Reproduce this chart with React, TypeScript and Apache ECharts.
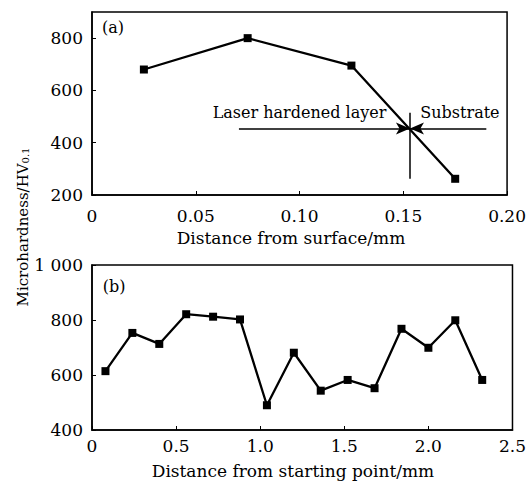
import React, { useEffect, useRef } from "react";
import * as echarts from "echarts";

// Panel (a): hardness vs distance from surface
const aDist = [0.025, 0.075, 0.125, 0.175];
const aHard = [680, 800, 695, 262];
// Panel (b): hardness vs distance from starting point
const bDist = [0.08, 0.24, 0.4, 0.56, 0.72, 0.88, 1.04, 1.2, 1.36, 1.52, 1.68, 1.84, 2.0, 2.16, 2.32];
const bHard = [614, 753, 713, 821, 812, 802, 490, 681, 543, 582, 552, 768, 699, 799, 582];

// Annotation geometry in panel (a) data units
const boundaryX = 0.1532;
const arrowY = 454;
const arrowLeftStart = 0.0708;
const arrowRightStart = 0.19;
const boundaryTop = 515;
const boundaryBottom = 262;
const labelY = 515;
const laserLabelX = 0.1;
const substrateLabelX = 0.1773;

const FONT = "DejaVu Serif";

export default function App() {
  const ref = useRef<HTMLDivElement>(null);
  useEffect(() => {
    document.body.style.margin = "0";
    const chart = echarts.init(ref.current!, null, { renderer: "svg" });
    const axisLineStyle = { color: "#000", width: 1.5 };
    const tickLabel = { color: "#000", fontFamily: FONT, fontSize: 17 };
    const option: any = {
      animation: false,
      backgroundColor: "#fff",
      grid: [
        { left: 92, top: 12, width: 432, height: 183, show: true, borderColor: "#000", borderWidth: 1.5, backgroundColor: "transparent" },
        { left: 92, top: 265, width: 432, height: 165, show: true, borderColor: "#000", borderWidth: 1.5, backgroundColor: "transparent" },
      ],
      xAxis: [
        {
          type: "value", gridIndex: 0, min: 0, max: 0.2, interval: 0.05,
          axisLine: { show: true, lineStyle: axisLineStyle },
          axisTick: { show: true, inside: true, length: 4, lineStyle: { color: "#000" } },
          splitLine: { show: false },
          axisLabel: { ...tickLabel, margin: 12, formatter: (v: number) => (v === 0 ? "0" : v.toFixed(2)) },
        },
        {
          type: "value", gridIndex: 1, min: 0, max: 2.5, interval: 0.5,
          axisLine: { show: true, lineStyle: axisLineStyle },
          axisTick: { show: true, inside: true, length: 4, lineStyle: { color: "#000" } },
          splitLine: { show: false },
          axisLabel: { ...tickLabel, margin: 7, formatter: (v: number) => (v === 0 ? "0" : v.toFixed(1)) },
        },
      ],
      yAxis: [
        {
          type: "value", gridIndex: 0, min: 200, max: 900, interval: 200,
          axisLine: { show: true, lineStyle: axisLineStyle },
          axisTick: { show: true, inside: true, length: 4, lineStyle: { color: "#000" } },
          splitLine: { show: false },
          axisLabel: { ...tickLabel, margin: 9, showMaxLabel: false },
        },
        {
          type: "value", gridIndex: 1, min: 400, max: 1000, interval: 200,
          axisLine: { show: true, lineStyle: axisLineStyle },
          axisTick: { show: true, inside: true, length: 4, lineStyle: { color: "#000" } },
          splitLine: { show: false },
          axisLabel: { ...tickLabel, margin: 9, formatter: (v: number) => (v === 1000 ? "1 000" : String(v)) },
        },
      ],
      series: [
        {
          type: "line", xAxisIndex: 0, yAxisIndex: 0,
          data: aDist.map((x, i) => [x, aHard[i]]),
          symbol: "rect", symbolSize: 8, showAllSymbol: true,
          lineStyle: { color: "#000", width: 2.3 },
          itemStyle: { color: "#000" },
          markLine: {
            silent: true, animation: false,
            symbol: ["none", "arrow"], symbolSize: [9, 14],
            label: { show: false },
            lineStyle: { color: "#000", width: 1.5, type: "solid" },
            data: [
              [{ coord: [arrowLeftStart, arrowY] }, { coord: [boundaryX, arrowY] }],
              [{ coord: [arrowRightStart, arrowY] }, { coord: [boundaryX, arrowY] }],
              [{ coord: [boundaryX, boundaryTop], symbol: "none" }, { coord: [boundaryX, boundaryBottom], symbol: "none" }],
            ],
          },
          markPoint: {
            silent: true, animation: false,
            symbol: "rect", symbolSize: 0,
            label: { show: true, position: "inside", color: "#000", fontFamily: FONT, fontSize: 16 },
            data: [
              { coord: [laserLabelX, labelY], label: { formatter: "Laser hardened layer" } },
              { coord: [substrateLabelX, labelY], label: { formatter: "Substrate" } },
            ],
          },
        },
        {
          type: "line", xAxisIndex: 1, yAxisIndex: 1,
          data: bDist.map((x, i) => [x, bHard[i]]),
          symbol: "rect", symbolSize: 8, showAllSymbol: true,
          lineStyle: { color: "#000", width: 2.3 },
          itemStyle: { color: "#000" },
        },
      ],
      graphic: [
        { type: "text", x: 113, y: 27, style: { text: "(a)", fill: "#000", font: `16px "${FONT}"`, align: "center", verticalAlign: "middle" } },
        { type: "text", x: 114, y: 286, style: { text: "(b)", fill: "#000", font: `16px "${FONT}"`, align: "center", verticalAlign: "middle" } },
        { type: "text", x: 291, y: 238, style: { text: "Distance from surface/mm", fill: "#000", font: `17px "${FONT}"`, align: "center", verticalAlign: "middle" } },
        { type: "text", x: 293, y: 471, style: { text: "Distance from starting point/mm", fill: "#000", font: `17px "${FONT}"`, align: "center", verticalAlign: "middle" } },
        {
          type: "text", x: 20, y: 227, rotation: Math.PI / 2,
          style: {
            text: "{m|Microhardness/HV}{s|0.1}",
            align: "center", verticalAlign: "middle", fill: "#000",
            rich: {
              m: { fontFamily: FONT, fontSize: 15, lineHeight: 20, fill: "#000", verticalAlign: "bottom" },
              s: { fontFamily: FONT, fontSize: 10, lineHeight: 4, fill: "#000", verticalAlign: "bottom" },
            },
          },
        },
      ],
    };
    chart.setOption(option);
    return () => chart.dispose();
  }, []);
  return <div ref={ref} style={{ width: 529, height: 483 }} />;
}
